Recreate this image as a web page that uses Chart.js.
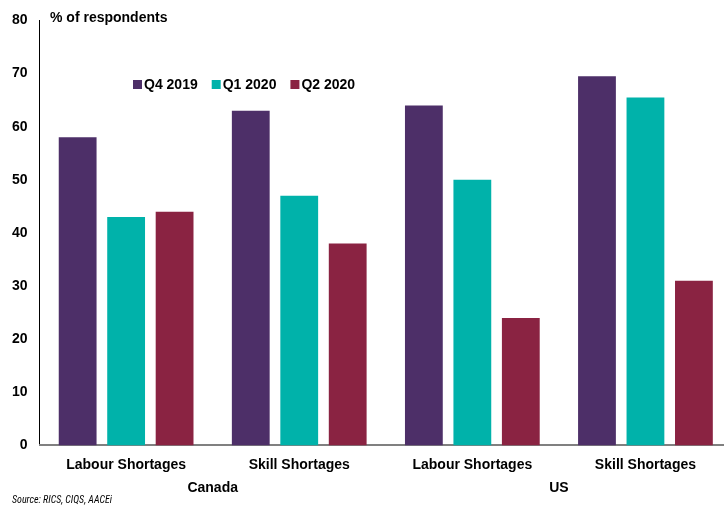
<!DOCTYPE html>
<html>
<head>
<meta charset="utf-8">
<script src="https://cdn.jsdelivr.net/npm/chart.js@4"></script>
<style>
  html, body { margin: 0; padding: 0; background: #fff; overflow: hidden; }
  #wrap { width: 732px; height: 507px; }
</style>
</head>
<body>
<div id="wrap"><canvas id="chart"></canvas></div>
<script>
// datos
const categorias = ["Labour Shortages", "Skill Shortages", "Labour Shortages", "Skill Shortages"];
const grupos = ["Canada", "US"];
const series = ["Q4 2019", "Q1 2020", "Q2 2020"];
const q4_2019 = [58, 63, 64, 69.5];
const q1_2020 = [43, 47, 50, 65.5];
const q2_2020 = [44, 38, 24, 31];
const colores = ["#4d2f68", "#00b2aa", "#8a2342"];

const narrow = "'Roboto Condensed', 'Liberation Sans', Arial, sans-serif";
const sans = "'Liberation Sans', Arial, sans-serif";

// leyenda, título del eje y fuente
const extras = {
  id: "extras",
  afterDraw(chart) {
    const c = chart.ctx;
    c.save();
    c.fillStyle = "#000";
    c.font = "bold 14px " + sans;
    c.textBaseline = "middle";
    c.fillText("% of respondents", 50, 18);

    // leyenda
    let x = 133;
    series.forEach((s, i) => {
      c.fillStyle = colores[i];
      c.fillRect(x, 80, 9, 9);
      c.fillStyle = "#000";
      c.fillText(s, x + 11, 85);
      x += 11 + c.measureText(s).width + 14;
    });

    c.font = "italic 10px " + narrow;
    c.fillStyle = "#000";
    c.fillText("Source: RICS, CIQS, AACEi", 12, 500);
    c.restore();
  }
};

const ctx = document.getElementById("chart").getContext("2d");
new Chart(ctx, {
  type: "bar",
  data: {
    labels: categorias,
    datasets: [
      { label: series[0], data: q4_2019, backgroundColor: colores[0] },
      { label: series[1], data: q1_2020, backgroundColor: colores[1] },
      { label: series[2], data: q2_2020, backgroundColor: colores[2] }
    ]
  },
  options: {
    responsive: true,
    maintainAspectRatio: false,
    animation: false,
    categoryPercentage: 0.84,
    barPercentage: 0.78,
    layout: { padding: { top: 19, left: 0, right: 0, bottom: 6 } },
    plugins: { legend: { display: false }, tooltip: { enabled: false } },
    scales: {
      y: {
        min: 0,
        max: 80,
        ticks: { stepSize: 10, color: "#000", padding: 12, font: { family: sans, size: 14, weight: "bold" } },
        grid: { display: false, drawTicks: false },
        border: { display: true, color: "#000", width: 1 }
      },
      x: {
        ticks: { color: "#000", padding: 3, maxRotation: 0, font: { family: sans, size: 14, weight: "bold" } },
        grid: { display: false },
        border: { display: true, color: "#808080", width: 2 }
      },
      x2: {
        type: "category",
        position: "bottom",
        labels: grupos,
        ticks: { color: "#000", padding: 4, font: { family: sans, size: 14, weight: "bold" } },
        grid: { display: false, drawTicks: false },
        border: { display: false }
      }
    }
  },
  plugins: [extras]
});
</script>
</body>
</html>
